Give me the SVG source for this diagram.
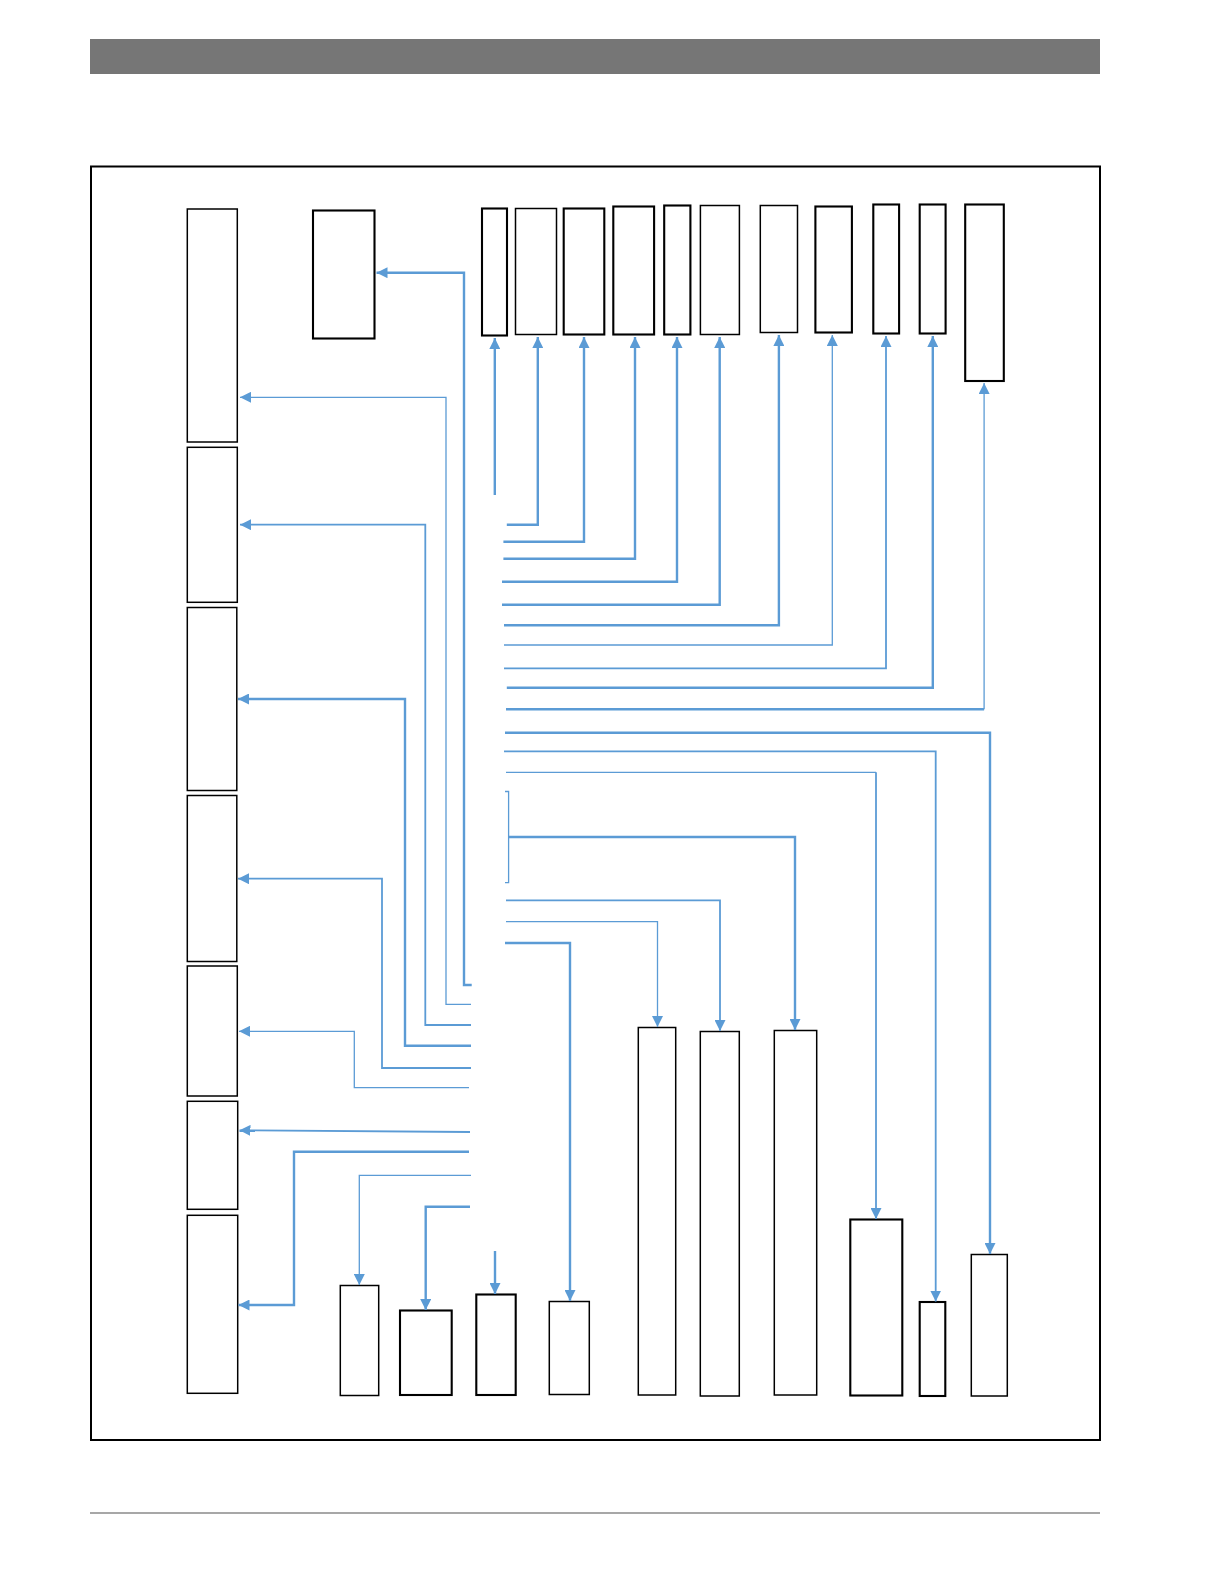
<svg xmlns="http://www.w3.org/2000/svg" width="1224" height="1584" viewBox="0 0 1224 1584">
<style>
.n{fill:#fff;stroke:#000;stroke-width:1.5}
.nt{fill:#fff;stroke:#000;stroke-width:2.1}
.c{fill:none;stroke:#5b9bd5;stroke-linejoin:miter}
.w1{stroke-width:1.3}
.w2{stroke-width:1.8}
.w3{stroke-width:2.4}
</style>
<defs>
<marker id="ah" viewBox="0 0 11 11" markerWidth="11" markerHeight="11" markerUnits="userSpaceOnUse" refX="11" refY="5.5" orient="auto">
<path d="M0,0 L11,5.5 L0,11 z" fill="#5b9bd5"/>
</marker>
</defs>
<rect x="0" y="0" width="1224" height="1584" fill="#fff"/>
<rect id="header" x="90" y="39" width="1010" height="35" fill="#767676"/>
<rect id="frame" x="91" y="166.5" width="1009" height="1273.5" fill="none" stroke="#000" stroke-width="2"/>
<line id="footer" x1="90" y1="1513" x2="1100" y2="1513" stroke="#8a8a8a" stroke-width="1.5"/>

<g id="left-column">
<rect id="L1" class="n" x="187.3" y="209" width="50" height="233"/>
<rect id="L2" class="n" x="187.3" y="447.3" width="50" height="155"/>
<rect id="L3" class="n" x="187.3" y="607.5" width="49.5" height="183"/>
<rect id="L4" class="n" x="187.3" y="795.5" width="49.5" height="166"/>
<rect id="L5" class="n" x="187.3" y="966" width="50" height="130"/>
<rect id="L6" class="n" x="187.3" y="1101.3" width="50.4" height="108"/>
<rect id="L7" class="n" x="187.3" y="1215.3" width="50.4" height="178"/>
</g>
<g id="A"><rect class="nt" x="313" y="210.5" width="61.5" height="128"/></g>

<g id="top-row">
<rect id="T1" class="nt" x="482" y="208.5" width="25" height="127"/>
<rect id="T2" class="n" x="515.5" y="208.5" width="41" height="126"/>
<rect id="T3" class="nt" x="563.7" y="208.5" width="40.6" height="126"/>
<rect id="T4" class="nt" x="613.3" y="206.5" width="40.8" height="128"/>
<rect id="T5" class="nt" x="664.2" y="205.5" width="26.2" height="129"/>
<rect id="T6" class="n" x="700.4" y="205.5" width="39" height="129"/>
<rect id="T7" class="n" x="760.3" y="205.5" width="37.2" height="127"/>
<rect id="T8" class="nt" x="815.4" y="206.5" width="36.5" height="126"/>
<rect id="T9" class="nt" x="873.3" y="204.5" width="25.8" height="129"/>
<rect id="T10" class="nt" x="919.7" y="204.5" width="25.9" height="129"/>
<rect id="T11" class="nt" x="965.2" y="204.5" width="38.6" height="176.5"/>
</g>

<g id="bottom-row">
<rect id="B1" class="n" x="340.3" y="1285.5" width="38.4" height="110"/>
<rect id="B2" class="nt" x="400" y="1310.5" width="51.7" height="84.5"/>
<rect id="B3" class="nt" x="476.3" y="1294.5" width="39.4" height="100.5"/>
<rect id="B4" class="n" x="549.3" y="1301.5" width="40" height="93"/>
<rect id="B5" class="n" x="638.3" y="1027.5" width="37.4" height="367.5"/>
<rect id="B6" class="n" x="700.3" y="1031.5" width="39" height="364.5"/>
<rect id="B7" class="n" x="774.3" y="1030.5" width="42.4" height="364.5"/>
<rect id="B8" class="nt" x="850.3" y="1219.5" width="52" height="176"/>
<rect id="B9" class="nt" x="919.7" y="1302" width="25.6" height="94"/>
<rect id="B10" class="n" x="971.3" y="1254.5" width="36" height="141.5"/>
</g>

<g id="connectors">
<path class="c w3" d="M471.7,985 H464 V272.7 H376.5" marker-end="url(#ah)"/>
<path class="c w1" d="M471,1004.3 H446 V397.3 H240" marker-end="url(#ah)"/>
<path class="c w2" d="M471,1025 H425.3 V524.7 H240" marker-end="url(#ah)"/>
<path class="c w3" d="M471,1045.7 H405 V699 H238" marker-end="url(#ah)"/>
<path class="c w2" d="M471,1068 H382 V878.7 H238" marker-end="url(#ah)"/>
<path class="c w1" d="M469,1087.7 H354.3 V1031.3 H239" marker-end="url(#ah)"/>
<path class="c w2" d="M470,1132 L239.5,1130.3" marker-end="url(#ah)"/>
<path class="c w3" d="M469,1151.7 H294 V1305 H238.5" marker-end="url(#ah)"/>
<path class="c w1" d="M471,1175.3 H359.3 V1285" marker-end="url(#ah)"/>
<path class="c w3" d="M470,1206.7 H425.7 V1310" marker-end="url(#ah)"/>
<path class="c w3" d="M495,1251 V1294" marker-end="url(#ah)"/>
<path class="c w3" d="M505,943 H570 V1301" marker-end="url(#ah)"/>

<path class="c w3" d="M494.8,495 V338" marker-end="url(#ah)"/>
<path class="c w3" d="M506.8,524.7 H537.8 V337" marker-end="url(#ah)"/>
<path class="c w3" d="M503.4,541.7 H584 V337" marker-end="url(#ah)"/>
<path class="c w3" d="M503.4,558.7 H635 V337" marker-end="url(#ah)"/>
<path class="c w3" d="M502,581.7 H677 V337" marker-end="url(#ah)"/>
<path class="c w3" d="M502,604.7 H719.7 V337" marker-end="url(#ah)"/>
<path class="c w3" d="M504,625.3 H778.9 V335" marker-end="url(#ah)"/>
<path class="c w1" d="M504,645 H832.3 V335" marker-end="url(#ah)"/>
<path class="c w2" d="M504,668.3 H886 V336" marker-end="url(#ah)"/>
<path class="c w3" d="M506.8,687.7 H932.8 V336" marker-end="url(#ah)"/>
<path class="c w3" d="M506,709.3 H984.1"/>
<path class="c w1" d="M984.1,709.3 V383" marker-end="url(#ah)"/>

<path class="c w3" d="M505,732.7 H990 V1254" marker-end="url(#ah)"/>
<path class="c w2" d="M504,751.3 H935.7 V1301.5" marker-end="url(#ah)"/>
<path class="c w1" d="M506,772.3 H876"/>
<path class="c w2" d="M876,772.3 V1219" marker-end="url(#ah)"/>
<path class="c w1" d="M505,791.5 H508.6 V882.7 H505"/>
<path class="c w3" d="M508.6,837 H795 V1030" marker-end="url(#ah)"/>
<path class="c w2" d="M506,900.3 H720 V1031" marker-end="url(#ah)"/>
<path class="c w1" d="M506,921.7 H657.5 V1027" marker-end="url(#ah)"/>
</g>
</svg>
